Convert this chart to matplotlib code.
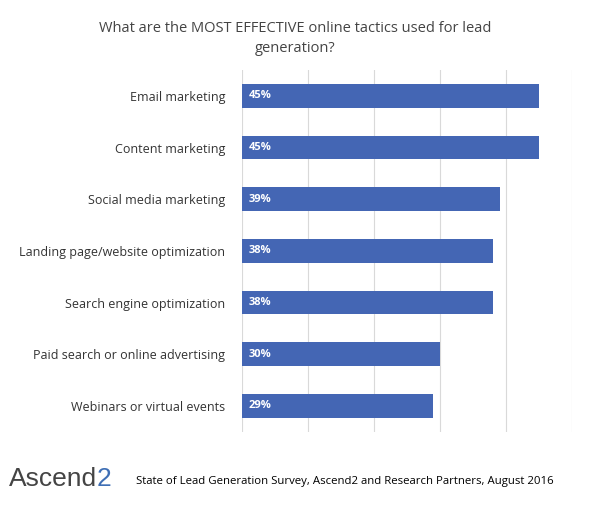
import matplotlib
matplotlib.use("Agg")
import matplotlib.pyplot as plt

categories = ["Email marketing", "Content marketing", "Social media marketing",
              "Landing page/website optimization", "Search engine optimization",
              "Paid search or online advertising", "Webinars or virtual events"]
values = [45, 45, 39, 38, 38, 30, 29]
ticks = [0, 10, 20, 30, 40, 50]

plt.rcParams['font.family'] = ['Open Sans', 'DejaVu Sans']
fig = plt.figure(figsize=(5.96, 5.11), dpi=100)
ax = fig.add_axes([0.406, 0.155, 0.554, 0.708])
y = list(range(len(categories)))
ax.barh(y, values, height=0.46, color="#4466B4", zorder=3)
for yi, v in zip(y, values):
    ax.text(1, yi, f"{v}%", color="white", fontsize=8, fontweight="bold", va="center", ha="left", zorder=4)
ax.set_yticks(y)
ax.set_yticklabels(categories, fontsize=9, color="#333333")
ax.set_ylim(len(categories) - 0.5, -0.5)
ax.set_xlim(0, 50)
ax.set_xticks(ticks)
ax.tick_params(axis="x", length=0, labelbottom=False)
ax.tick_params(axis="y", length=0, pad=12)
ax.grid(axis="x", color="#d9d9d9", linewidth=0.8, zorder=0)
for s in ax.spines.values():
    s.set_visible(False)

fig.text(0.495, 0.925, "What are the MOST EFFECTIVE online tactics used for lead\ngeneration?",
         ha="center", va="center", fontsize=10.5, color="#444444", linespacing=1.4)
logo_fam = ["Liberation Sans Narrow", "Liberation Sans", "DejaVu Sans"]
t1 = fig.text(0.015, 0.062, "Ascend", fontsize=19, color="#444444", va="center", ha="left", family=logo_fam)
fig.canvas.draw()
bb = t1.get_window_extent(fig.canvas.get_renderer())
x2 = bb.x1 / fig.bbox.width
fig.text(x2, 0.062, "2", fontsize=19, color="#3f6fb5", va="center", ha="left", family=logo_fam)
fig.text(0.228, 0.058, "State of Lead Generation Survey, Ascend2 and Research Partners, August 2016",
         fontsize=8.2, color="black", va="center", ha="left")
fig.savefig("out.png", dpi=100)
